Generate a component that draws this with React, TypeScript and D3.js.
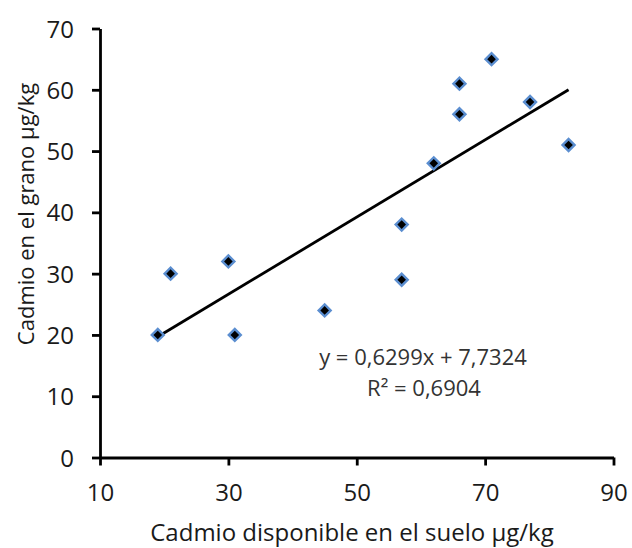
import React, { useEffect, useRef } from "react";
import * as d3 from "d3";

// datos
const sueloCd = [19, 21, 30, 31, 45, 57, 57, 62, 66, 66, 71, 77, 83];
const granoCd = [20, 30, 32, 20, 24, 38, 29, 48, 61, 56, 65, 58, 51];
const xTicks = [10, 30, 50, 70, 90];
const yTicks = [0, 10, 20, 30, 40, 50, 60, 70];
const slope = 0.6299;
const intercept = 7.7324;
const eqLabel = "y = 0,6299x + 7,7324";
const r2Label = "R² = 0,6904";
const xTitle = "Cadmio disponible en el suelo µg/kg";
const yTitle = "Cadmio en el grano µg/kg";

const App = () => {
    const ref = useRef<SVGSVGElement>(null);

    useEffect(() => {
        const width = 632;
        const height = 548;
        const font = "'Open Sans', sans-serif";

        const svg = d3.select(ref.current);
        svg.selectAll("*").remove();

        // Scales
        const x = d3.scaleLinear().domain([10, 90]).range([100, 613.5]);
        const y = d3.scaleLinear().domain([0, 70]).range([457.5, 28.5]);

        // Axes
        const yAxis = svg
            .append("g")
            .attr("transform", `translate(${x(10)},0)`)
            .call(d3.axisLeft(y).tickValues(yTicks).tickSize(8).tickPadding(18).tickSizeOuter(0));
        const xAxis = svg
            .append("g")
            .attr("transform", `translate(0,${y(0)})`)
            .call(d3.axisBottom(x).tickValues(xTicks).tickSize(8).tickPadding(18).tickSizeOuter(0));

        [xAxis, yAxis].forEach((g) => {
            g.select(".domain").attr("stroke", "#000").attr("stroke-width", 2.8);
            g.selectAll(".tick line").attr("stroke", "#000").attr("stroke-width", 2.8);
            g.selectAll(".tick text")
                .attr("fill", "#1a1a1a")
                .style("font-family", font)
                .style("font-size", "24px");
        });
        yAxis.selectAll(".tick text").attr("dy", "0.36em");

        // Trend line
        const xMin = d3.min(sueloCd) as number;
        const xMax = d3.max(sueloCd) as number;
        const line = d3
            .line<number>()
            .x((d) => x(d))
            .y((d) => y(slope * d + intercept));
        svg.append("path")
            .datum([xMin, xMax])
            .attr("d", line)
            .attr("fill", "none")
            .attr("stroke", "#000")
            .attr("stroke-width", 2.8);

        // Points
        const diamond = d3.symbol().type(d3.symbolSquare).size(72);
        svg.append("g")
            .selectAll("path")
            .data(sueloCd)
            .join("path")
            .attr("d", diamond)
            .attr("transform", (d, i) => `translate(${x(d)},${y(granoCd[i])}) rotate(45)`)
            .attr("fill", "#000")
            .attr("stroke", "#5b8ed0")
            .attr("stroke-width", 2.4);

        // Equation
        svg.append("text")
            .attr("x", 423)
            .attr("y", 365)
            .attr("text-anchor", "middle")
            .attr("fill", "#333")
            .style("font-family", font)
            .style("font-size", "22px")
            .text(eqLabel);
        svg.append("text")
            .attr("x", 424)
            .attr("y", 396)
            .attr("text-anchor", "middle")
            .attr("fill", "#333")
            .style("font-family", font)
            .style("font-size", "22px")
            .text(r2Label);

        // Titles
        svg.append("text")
            .attr("x", 352)
            .attr("y", 541)
            .attr("text-anchor", "middle")
            .attr("fill", "#1a1a1a")
            .style("font-family", font)
            .style("font-size", "24px")
            .text(xTitle);
        svg.append("text")
            .attr("transform", `translate(34,214) rotate(-90)`)
            .attr("text-anchor", "middle")
            .attr("fill", "#1a1a1a")
            .style("font-family", font)
            .style("font-size", "22px")
            .text(yTitle);

        svg.attr("width", width).attr("height", height);
    }, []);

    return (
        <svg
            ref={ref}
            width={632}
            height={548}
            style={{ position: "absolute", left: 0, top: 0, background: "#fff" }}
        />
    );
};

export default App;
